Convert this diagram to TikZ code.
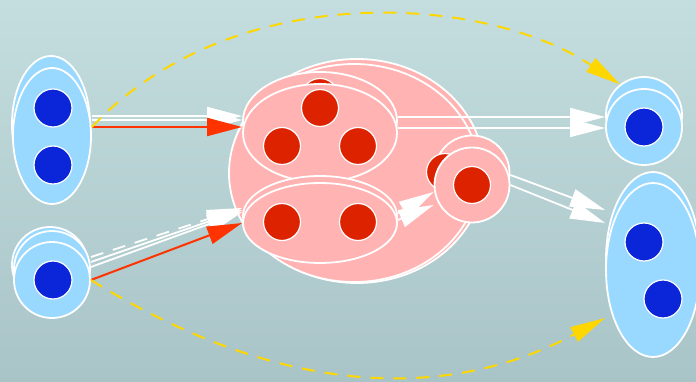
\documentclass[tikz,border=0pt]{standalone}
\usetikzlibrary{arrows.meta,shapes.geometric}
\definecolor{bgtop}{RGB}{196,222,223}
\definecolor{bgbot}{RGB}{169,196,199}
\definecolor{sky}{RGB}{153,217,255}
\definecolor{dotblue}{RGB}{10,38,216}
\definecolor{rose}{RGB}{255,179,179}
\definecolor{dotred}{RGB}{221,34,0}
\definecolor{edgered}{RGB}{255,51,0}
\definecolor{gold}{RGB}{255,215,0}

\begin{document}
\begin{tikzpicture}[x=1pt,y=-1pt,>={Triangle[length=35pt,width=18pt]},
  every node/.style={draw=white,line width=1.8pt,inner sep=0pt},
  blob/.style={ellipse,fill=sky},
  pblob/.style={ellipse,fill=rose},
  bdot/.style={circle,fill=dotblue,minimum size=38pt,line width=1.2pt},
  rdot/.style={circle,fill=dotred,minimum size=37pt,line width=1.2pt},
  link/.style={->,white,line width=1.8pt},
  hot/.style={->,edgered,line width=2pt},
  dashlink/.style={->,color=gold,line width=2pt,dash pattern=on 13pt off 10pt,
    >={Triangle[length=35pt,width=16pt]}}]
  \useasboundingbox (0,0) rectangle (696,382);
  \clip (0,0) rectangle (696,382);
  \shade[top color=bgtop,bottom color=bgbot] (0,0) rectangle (696,382);

  % left side
  \node[blob,minimum width=78pt,minimum height=136pt] (srcAback) at (51,124) {};
  \node[blob,minimum width=78pt,minimum height=136pt] (srcA) at (52,136) {};
  \node[bdot] (a1) at (53,108) {};
  \node[bdot] (a2) at (53,165) {};
  \node[blob,minimum size=76pt] (srcBback) at (50,265) {};
  \node[blob,minimum size=76pt] (srcBmid) at (52,269) {};
  \node[blob,minimum size=76pt] (srcB) at (52,280) {};
  \node[bdot] (b1) at (53,280) {};

  % cluster
  \node[pblob,minimum width=254pt,minimum height=224pt] (clusterback) at (357,171) {};
  \node[pblob,minimum width=250pt,minimum height=218pt] (cluster) at (354,173) {};
  \node[pblob,minimum width=154pt,minimum height=98pt] (topEback) at (320,121) {};
  \node[rdot] (t0) at (320,97) {};
  \node[pblob,minimum width=154pt,minimum height=98pt] (topE) at (320,133) {};
  \node[rdot] (t1) at (320,108) {};
  \node[rdot] (t2) at (282,146) {};
  \node[rdot] (t3) at (358,146) {};
  \node[pblob,minimum width=154pt,minimum height=80pt] (botEback) at (320,216) {};
  \node[pblob,minimum width=154pt,minimum height=80pt] (botE) at (320,223) {};
  \node[rdot] (u1) at (282,222) {};
  \node[rdot] (u2) at (358,222) {};
  \node[pblob,minimum size=75pt] (ringback) at (472,173) {};
  \node[rdot] (r0) at (445,172) {};
  \node[pblob,minimum size=75pt] (ring) at (472,185) {};
  \node[rdot] (r1) at (472,185) {};

  % right side
  \node[blob,minimum size=76pt] (dstAback) at (644,115) {};
  \node[blob,minimum size=76pt] (dstA) at (644,127) {};
  \node[bdot] (c1) at (644,127) {};
  \node[blob,minimum width=94pt,minimum height=174pt] (dstBback) at (653,259) {};
  \node[blob,minimum width=94pt,minimum height=174pt] (dstB) at (653,270) {};
  \node[bdot] (d1) at (644,242) {};
  \node[bdot] (d2) at (663,299) {};

  \draw[link] ([yshift=20pt]srcA.east) -- ([yshift=17pt]topE.west);
  \draw[link] ([yshift=16pt]srcA.east) -- ([yshift=13pt]topE.west);
  \draw[hot] ([yshift=9pt]srcA.east) -- ([yshift=6pt]topE.west);

  \draw[link,dash pattern=on 13pt off 10pt] ([yshift=23pt]srcB.east) -- ([yshift=15pt]botE.west);
  \draw[link] ([yshift=18pt]srcB.east) -- ([yshift=13pt]botE.west);
  \draw[link] ([yshift=13pt]srcB.east) -- ([yshift=11pt]botE.west);
  \draw[hot] (srcB.east) -- (botE.west);

  \draw[link] ([yshift=16pt]topE.east) -- ([yshift=10pt]dstA.west);
  \draw[link] ([yshift=5pt]topE.east) -- ([yshift=-1pt]dstA.west);

  \draw[link] ([yshift=10pt]botE.east) -- ([yshift=-7pt]ring.west);
  \draw[link] ([yshift=3pt]botE.east) -- ([yshift=-20pt]ring.west);

  \draw[link] ([yshift=10pt]ring.east) -- ([yshift=60pt]dstB.west);
  \draw[link] (ring.east) -- ([yshift=47pt]dstB.west);

  \draw[dashlink] ([yshift=9pt]srcA.east) .. controls (232,-22) and (484,-6) .. (dstAback.128);
  \draw[dashlink] (srcB.east) .. controls (272,392) and (440,406) .. ([shift={(-48,48)}]dstB.center);
\end{tikzpicture}
\end{document}
